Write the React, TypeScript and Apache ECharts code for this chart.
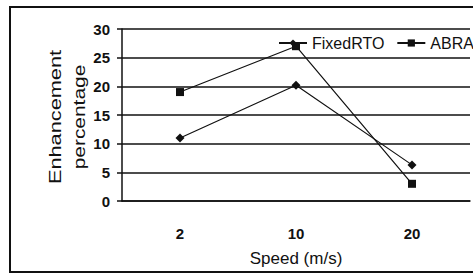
import React, { useEffect, useRef } from "react";
import * as echarts from "echarts";

const categories = ["2", "10", "20"];
const fixedRTO = [11, 20.2, 6.3];
const abra = [19, 27, 3];
const yTicks = { min: 0, max: 30, interval: 5 };

const FONT = "'Liberation Sans', Arial, sans-serif";
const NARROW = "'Liberation Sans Narrow', 'Liberation Sans', Arial, sans-serif";

export default function App() {
  const ref = useRef<HTMLDivElement>(null);
  useEffect(() => {
    if (!ref.current) return;
    const chart = echarts.init(ref.current, null, { renderer: "svg" });
    chart.setOption({
      animation: false,
      backgroundColor: "#fff",
      grid: { left: 122, top: 29, width: 348, height: 172 },
      legend: {
        orient: "horizontal",
        left: 278,
        top: 35,
        width: 400,
        padding: 0,
        itemWidth: 28,
        itemHeight: 9,
        itemGap: 12,
        textStyle: { fontFamily: FONT, fontSize: 16, color: "#111", padding: [0, 0, 0, 0] },
        data: ["FixedRTO", "ABRA"],
      },
      xAxis: {
        type: "category",
        data: categories,
        boundaryGap: true,
        axisLine: { show: true, lineStyle: { color: "#111", width: 1.5 } },
        axisTick: { show: false },
        axisLabel: { margin: 25, fontFamily: NARROW, fontWeight: "bold", fontSize: 15, color: "#111" },
        name: "Speed (m/s)",
        nameLocation: "middle",
        nameGap: 49,
        nameTextStyle: { fontFamily: FONT, fontSize: 17, color: "#111" },
      },
      yAxis: {
        type: "value",
        min: yTicks.min,
        max: yTicks.max,
        interval: yTicks.interval,
        axisLine: { show: true, lineStyle: { color: "#111", width: 1.5 } },
        axisTick: { show: true, length: 5, lineStyle: { color: "#111", width: 1.5 } },
        axisLabel: { margin: 12, fontFamily: NARROW, fontWeight: "bold", fontSize: 15, color: "#111" },
        splitLine: { show: true, lineStyle: { color: "#111", width: 1.5 } },
      },
      series: [
        {
          name: "FixedRTO",
          type: "line",
          data: fixedRTO,
          symbol: "diamond",
          symbolSize: 9,
          itemStyle: { color: "#111" },
          lineStyle: { color: "#111", width: 1.2 },
        },
        {
          name: "ABRA",
          type: "line",
          data: abra,
          symbol: "rect",
          symbolSize: 8,
          itemStyle: { color: "#111" },
          lineStyle: { color: "#111", width: 1.2 },
        },
      ],
      graphic: [
        {
          type: "rect",
          shape: { x: 10, y: 7, width: 480, height: 265 },
          style: { fill: "none", stroke: "#111", lineWidth: 2 },
          z: -1,
        },
        {
          type: "text",
          x: 55,
          y: 117,
          rotation: Math.PI / 2,
          scaleX: 1.28,
          style: {
            text: "Enhancement",
            fontFamily: FONT,
            fontSize: 17,
            fill: "#111",
            align: "center",
            verticalAlign: "middle",
          },
        },
        {
          type: "text",
          x: 79,
          y: 117,
          rotation: Math.PI / 2,
          scaleX: 1.23,
          style: {
            text: "percentage",
            fontFamily: FONT,
            fontSize: 17,
            fill: "#111",
            align: "center",
            verticalAlign: "middle",
          },
        },
      ],
    });
    return () => chart.dispose();
  }, []);
  return (
    <div
      ref={ref}
      style={{ position: "fixed", left: 0, top: 0, width: 473, height: 274 }}
    />
  );
}
